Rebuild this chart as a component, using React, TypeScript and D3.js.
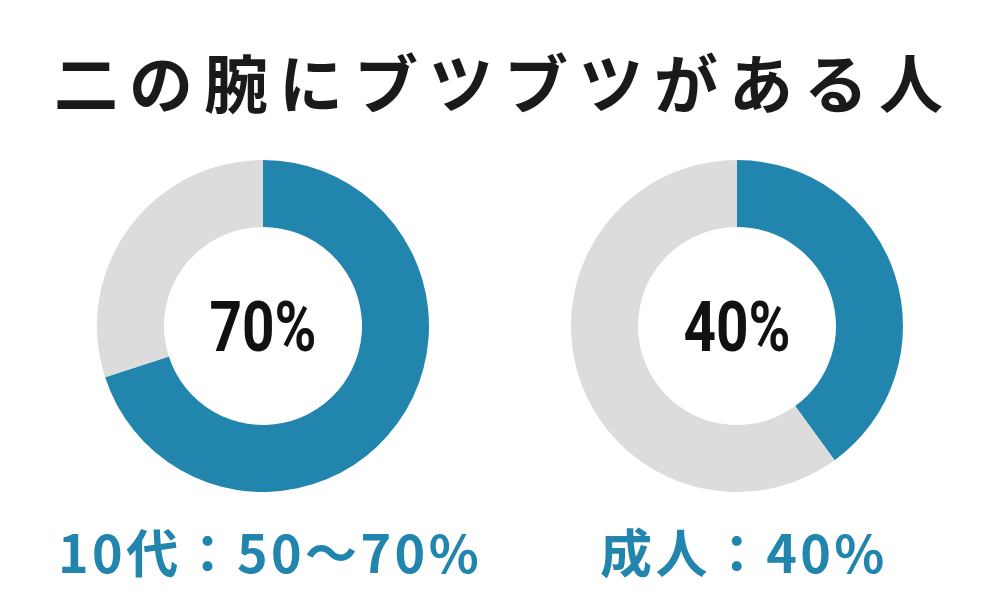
import React from "react";
import * as d3 from "d3";

const title = "二の腕にブツブツがある人";
const groups = ["10代", "成人"];
const values = [70, 40];
const centerLabels = ["70%", "40%"];
const bottomLabels = ["10代：50〜70%", "成人：40%"];

const W = 1000;
const H = 600;
const BLUE = "#2185ad";
const GRAY = "#dcdcdc";

export default function App() {
  const x = d3.scalePoint<string>().domain(groups).range([263, 737]);
  const outerR = 166;
  const innerR = 99;
  const cy = 326;
  const pie = d3.pie<number>().sort(null).value((d) => d);
  const arc = d3.arc<d3.PieArcDatum<number>>().innerRadius(innerR).outerRadius(outerR);
  const labelX = [58, 600];

  return (
    <svg width={W} height={H} style={{ position: "absolute", left: 0, top: 0, background: "#fff" }}>
      <rect width={W} height={H} fill="#fff" />
      <text
        x={504}
        y={108}
        textAnchor="middle"
        fontFamily="'Noto Sans CJK JP', sans-serif"
        fontWeight={700}
        fontSize={64}
        letterSpacing={11}
        fill="#1a1a1a"
      >
        {title}
      </text>
      {groups.map((g, i) => {
        const arcs = pie([values[i], 100 - values[i]]);
        return (
          <g key={g} transform={`translate(${x(g)},${cy})`}>
            {arcs.map((a, j) => (
              <path key={j} d={arc(a) || ""} fill={j === 0 ? BLUE : GRAY} />
            ))}
            <text
              x={0}
              y={25}
              textAnchor="middle"
              fontFamily="Roboto, sans-serif"
              fontWeight={700}
              fontSize={70}
              textLength={107}
              lengthAdjust="spacingAndGlyphs"
              fill="#111"
            >
              {centerLabels[i]}
            </text>
          </g>
        );
      })}
      {bottomLabels.map((t, i) => (
        <text
          key={t}
          x={labelX[i]}
          y={573}
          fontFamily="'Noto Sans CJK JP', sans-serif"
          fontWeight={700}
          fontSize={52}
          letterSpacing={3.4}
          fill={BLUE}
        >
          {t}
        </text>
      ))}
    </svg>
  );
}
